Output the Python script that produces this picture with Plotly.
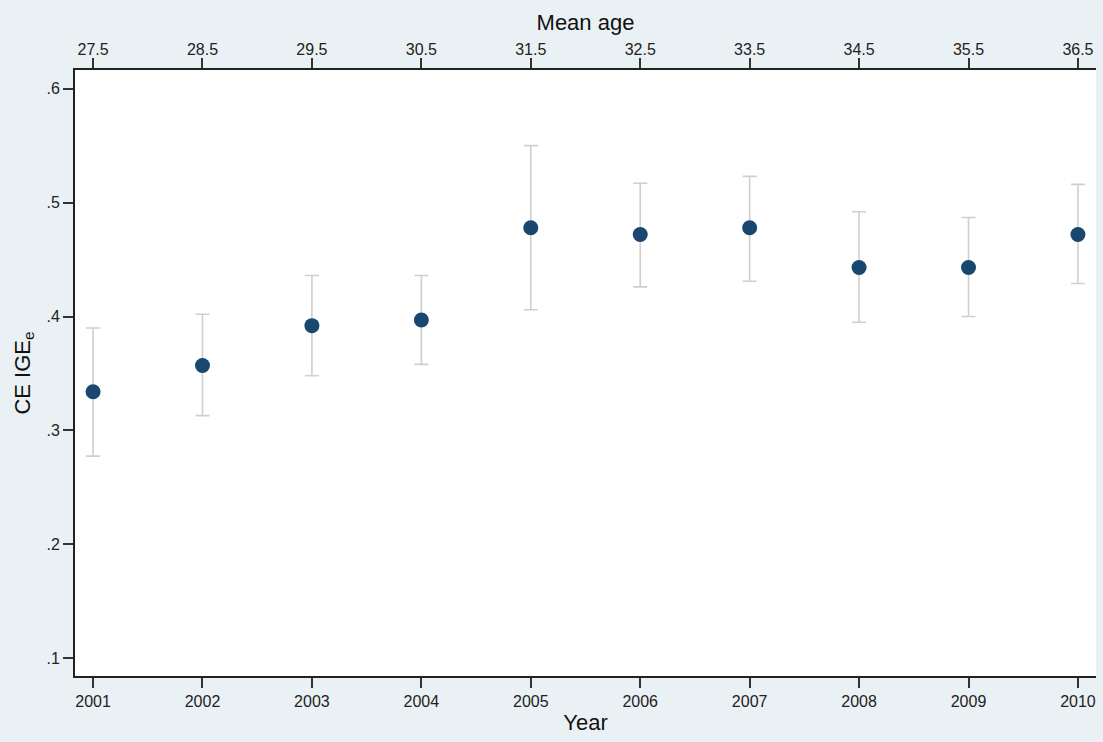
import plotly.graph_objects as go

years = [2001, 2002, 2003, 2004, 2005, 2006, 2007, 2008, 2009, 2010]
mean_age = [27.5, 28.5, 29.5, 30.5, 31.5, 32.5, 33.5, 34.5, 35.5, 36.5]
estimate = [0.334, 0.357, 0.392, 0.397, 0.478, 0.472, 0.478, 0.443, 0.443, 0.472]
ci_upper = [0.390, 0.402, 0.436, 0.436, 0.550, 0.517, 0.523, 0.492, 0.487, 0.516]
ci_lower = [0.2775, 0.313, 0.348, 0.358, 0.406, 0.426, 0.431, 0.395, 0.400, 0.429]
y_ticks = [0.1, 0.2, 0.3, 0.4, 0.5, 0.6]
y_ticklabels = [".1", ".2", ".3", ".4", ".5", ".6"]

err_plus = [u - e for u, e in zip(ci_upper, estimate)]
err_minus = [e - l for e, l in zip(estimate, ci_lower)]

FONT = "Liberation Sans, Arial, sans-serif"
TICKC = "#333333"
LABC = "#222222"

fig = go.Figure()
fig.add_trace(go.Scatter(
    x=years, y=estimate, mode="markers",
    marker=dict(size=15, color="#1a476f", line=dict(width=0)),
    error_y=dict(type="data", symmetric=False, array=err_plus, arrayminus=err_minus,
                 color="#cfcfcf", thickness=1.6, width=7),
    showlegend=False, hoverinfo="skip",
))
# invisible trace that carries the top "Mean age" axis
fig.add_trace(go.Scatter(
    x=mean_age, y=estimate, xaxis="x2", yaxis="y2", mode="markers",
    marker=dict(size=1, opacity=0), showlegend=False, hoverinfo="skip",
))

x_lo, x_hi = 2000.835, 2010.165
y_lo, y_hi = 0.0845, 0.6164
axis_common = dict(
    ticks="outside", ticklen=10, tickwidth=2, tickcolor=TICKC,
    showline=True, linecolor="#222222", linewidth=2, showgrid=False, zeroline=False,
    mirror=False, tickfont=dict(size=16, color=LABC),
)
fig.update_layout(
    width=1103, height=742,
    margin=dict(l=75, r=7, t=70, b=66),
    paper_bgcolor="#eaf1f4", plot_bgcolor="white",
    font=dict(family=FONT, color=LABC),
    xaxis=dict(
        range=[x_lo, x_hi], tickvals=years, ticktext=[str(y) for y in years],
        title=dict(text="Year", font=dict(size=22, color="#111111"), standoff=5),
        **axis_common,
    ),
    xaxis2=dict(
        overlaying="x", side="top", anchor="y2",
        range=[x_lo - 2001 + 27.5, x_hi - 2001 + 27.5], tickvals=mean_age,
        ticktext=[str(a) for a in mean_age], ticklabelstandoff=-3,
        title=dict(text="Mean age", font=dict(size=22, color="#111111"), standoff=4),
        **axis_common,
    ),
    yaxis=dict(
        range=[y_lo, y_hi], tickvals=y_ticks, ticktext=y_ticklabels,
        title=dict(text="CE IGE<sub>e</sub>", font=dict(size=22, color="#111111"), standoff=10),
        **axis_common,
    ),
    yaxis2=dict(overlaying="y", anchor="x2", range=[y_lo, y_hi], visible=False,
                showline=False, showgrid=False, zeroline=False),
)
fig.write_html("out.html")
